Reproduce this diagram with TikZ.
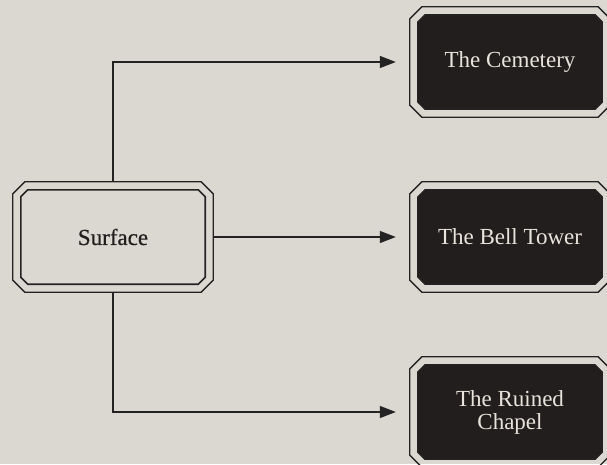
\documentclass[tikz,border=0pt]{standalone}
\usepackage{fontspec}
\setmainfont{Liberation Serif}
\newfontfamily\semibfont[FakeBold=0.6]{Liberation Serif}
\usetikzlibrary{arrows.meta}
\definecolor{bgc}{HTML}{DBD8D2}
\definecolor{darkc}{HTML}{221E1D}
\definecolor{lightc}{HTML}{E8E4DC}
\definecolor{linec}{HTML}{232323}
\newcommand{\chamfbox}[4]{%
 \draw[#4] ([xshift=#2pt+#3pt,yshift=-#2pt]#1.north west)
 -- ([xshift=-#2pt-#3pt,yshift=-#2pt]#1.north east)
 -- ([xshift=-#2pt,yshift=-#2pt-#3pt]#1.north east)
 -- ([xshift=-#2pt,yshift=#2pt+#3pt]#1.south east)
 -- ([xshift=-#2pt-#3pt,yshift=#2pt]#1.south east)
 -- ([xshift=#2pt+#3pt,yshift=#2pt]#1.south west)
 -- ([xshift=#2pt,yshift=#2pt+#3pt]#1.south west)
 -- ([xshift=#2pt,yshift=-#2pt-#3pt]#1.north west) -- cycle;}
\tikzset{
 boxarea/.style={rectangle, minimum width=200pt, minimum height=110pt, inner sep=0pt, draw=none},
 outerline/.style={draw=linec, line width=1.3pt},
 innerlight/.style={draw=linec, line width=1.6pt},
 innerdark/.style={draw=linec, fill=darkc, line width=1.2pt},
 lbl/.style={font=\semibfont\fontsize{23}{23}\selectfont, text=darkc, align=center},
 lbldark/.style={font=\fontsize{23}{23}\selectfont, text=lightc, align=center},
 conn/.style={draw=linec, line width=1.3pt, shorten >=14pt, -{Triangle[length=16pt,width=12pt]}}
}
\begin{document}
\begin{tikzpicture}[x=1pt,y=-1pt]
\fill[bgc] (0,0) rectangle (607,464);
\useasboundingbox (0,0) rectangle (607,464);
\node[boxarea] (s) at (113,237) {};
\node[boxarea] (c) at (510,62) {};
\node[boxarea] (b) at (510,237) {};
\node[boxarea] (r) at (510,412) {};
\chamfbox{s}{0}{12}{outerline}
\chamfbox{s}{8}{7}{innerlight}
\chamfbox{c}{0}{12}{outerline}
\chamfbox{c}{8}{7}{innerdark}
\chamfbox{b}{0}{12}{outerline}
\chamfbox{b}{8}{7}{innerdark}
\chamfbox{r}{0}{12}{outerline}
\chamfbox{r}{8}{7}{innerdark}
\node[lbl] (st) at (s.center) {Surface};
\node[lbldark] (ct) at (c.center) {The Cemetery};
\node[lbldark] (bt) at (b.center) {The Bell Tower};
\node[lbldark] (rt) at (r.center) {The Ruined\\Chapel};
\draw[conn] (s.north) |- (c.west);
\draw[conn] (s.east) -- (b.west);
\draw[conn] (s.south) |- (r.west);
\end{tikzpicture}
\end{document}
